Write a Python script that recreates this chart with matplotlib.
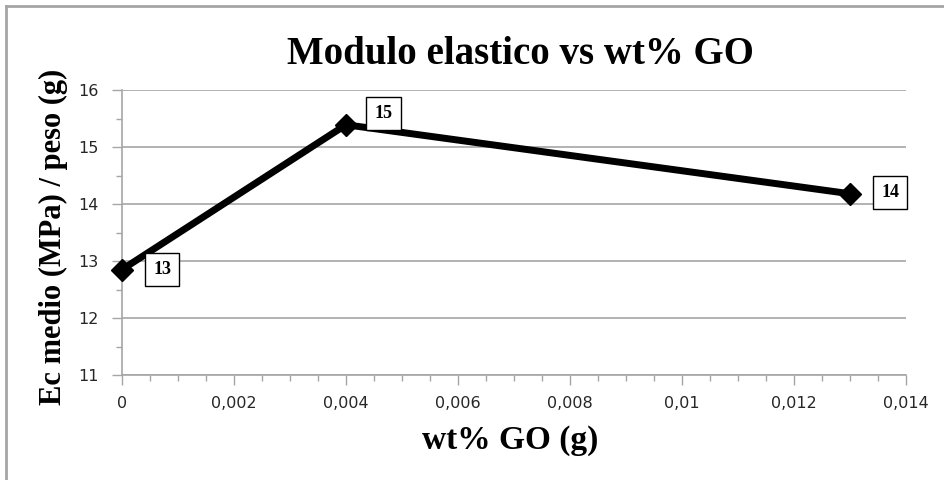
import matplotlib.pyplot as plt
from matplotlib.lines import Line2D
from matplotlib.ticker import MultipleLocator

# datos: wt% GO (g) vs Ec medio / peso
wt_go = [0.0, 0.004, 0.013]
ec_peso = [12.85, 15.39, 14.18]
label_offsets = [(29, 0), (27, 8), (29, 1)]  # pt

x_ticks = [0, 0.002, 0.004, 0.006, 0.008, 0.01, 0.012, 0.014]
x_ticklabels = ["0", "0,002", "0,004", "0,006", "0,008", "0,01", "0,012", "0,014"]
y_ticks = [11, 12, 13, 14, 15, 16]
y_ticklabels = ["11", "12", "13", "14", "15", "16"]

serif = "Liberation Serif"
sans = "DejaVu Sans"
gray = "#a6a6a6"

fig = plt.figure(figsize=(9.44, 4.8), dpi=100)
ax = fig.add_axes([122/944, 1-375/480, (906-122)/944, (375-90)/480])

ax.set_xlim(0, 0.014)
ax.set_ylim(11, 16)
ax.set_xticks(x_ticks)
ax.set_xticklabels(x_ticklabels, fontfamily=sans, fontsize=11.5, color="#262626")
ax.set_yticks(y_ticks)
ax.set_yticklabels(y_ticklabels, fontfamily=sans, fontsize=11.5, color="#262626")
ax.xaxis.set_minor_locator(MultipleLocator(0.0005))
ax.yaxis.set_minor_locator(MultipleLocator(0.5))
ax.tick_params(axis="both", which="major", length=7, width=1, color=gray, direction="out")
ax.tick_params(axis="both", which="minor", length=4, width=1, color=gray, direction="out")
ax.tick_params(axis="x", which="major", pad=8)
ax.tick_params(axis="y", which="major", pad=10)

for s in ["top", "right"]:
    ax.spines[s].set_visible(False)
for s in ["left", "bottom"]:
    ax.spines[s].set_color(gray)
    ax.spines[s].set_linewidth(1.2)

ax.grid(axis="y", which="major", color=gray, linewidth=1.2)
ax.set_axisbelow(True)

ax.plot(wt_go, ec_peso, color="black", linewidth=5, marker="D",
        markersize=11.5, markerfacecolor="black", markeredgecolor="black",
        solid_capstyle="butt", clip_on=False, zorder=3)

for xv, yv, off in zip(wt_go, ec_peso, label_offsets):
    ax.annotate(f"{round(yv)}", (xv, yv), xytext=off, textcoords="offset points",
                ha="center", va="center", fontfamily=serif, fontweight="bold",
                fontsize=13,
                bbox=dict(boxstyle="square,pad=0.45", facecolor="white",
                          edgecolor="black", linewidth=1),
                zorder=5, annotation_clip=False)

fig.text(520/944, 1-55/480, "Modulo elastico vs wt% GO", ha="center", va="center",
         fontfamily=serif, fontweight="bold", fontsize=28)
fig.text(510/944, 1-440/480, "wt% GO (g)", ha="center", va="center",
         fontfamily=serif, fontweight="bold", fontsize=24)
fig.text(53/944, 1-237/480, "Ec medio (MPa) / peso (g)", ha="center", va="center",
         rotation=90, fontfamily=serif, fontweight="bold", fontsize=22)

# marco del gráfico
fig.add_artist(Line2D([6/944, 6/944], [0, 1-6/480], color=gray, linewidth=2,
                      transform=fig.transFigure))
fig.add_artist(Line2D([6/944, 1], [1-6/480, 1-6/480], color=gray, linewidth=2,
                      transform=fig.transFigure))

fig.savefig("out.png", dpi=100)
